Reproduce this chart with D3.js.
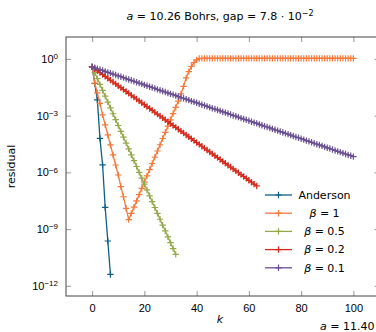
<!DOCTYPE html>
<html>
<head>
<meta charset="utf-8">
<script src="https://cdn.jsdelivr.net/npm/d3@7"></script>
<style>
  body { margin: 0; background: #fff; }
  svg { display: block; font-family: "DejaVu Sans", sans-serif; }
</style>
</head>
<body>
<svg id="chart" width="376" height="332"></svg>
<script>
// log10(residual), index = k
const andersonLog = [-0.42, -1.30, -2.17, -4.20, -5.60, -7.85, -9.63, -11.40];

const beta1Log = [
  -0.42, -1.28, -1.80, -2.35, -2.96, -3.49, -4.02, -4.55, -5.08, -5.61,
  -6.14, -6.75, -7.29, -7.90, -8.50, -8.17, -7.84, -7.51, -7.18, -6.85,
  -6.52, -6.19, -5.86, -5.53, -5.20, -4.87, -4.54, -4.21, -3.88, -3.55,
  -3.22, -2.89, -2.56, -2.23, -1.85, -1.45, -1.00, -0.67, -0.40, -0.20,
  -0.05, 0.02, 0.03, 0.03, 0.03, 0.03, 0.03, 0.03, 0.03, 0.03,
  0.03, 0.03, 0.03, 0.03, 0.03, 0.03, 0.03, 0.03, 0.03, 0.03,
  0.03, 0.03, 0.03, 0.03, 0.03, 0.03, 0.03, 0.03, 0.03, 0.03,
  0.03, 0.03, 0.03, 0.03, 0.03, 0.03, 0.03, 0.03, 0.03, 0.03,
  0.03, 0.03, 0.03, 0.03, 0.03, 0.03, 0.03, 0.03, 0.03, 0.03,
  0.03, 0.03, 0.03, 0.03, 0.03, 0.03, 0.03, 0.03, 0.03, 0.03,
  0.03
];

const beta05Log = [
  -0.42, -0.73, -1.04, -1.35, -1.66, -1.97, -2.28, -2.59, -2.90, -3.21,
  -3.52, -3.83, -4.14, -4.45, -4.76, -5.07, -5.38, -5.69, -6.00, -6.31,
  -6.62, -6.93, -7.24, -7.55, -7.86, -8.17, -8.48, -8.79, -9.10, -9.41,
  -9.72, -10.03, -10.34
];

const beta02Log = [
  -0.42, -0.52, -0.62, -0.72, -0.82, -0.92, -1.02, -1.12, -1.22, -1.32,
  -1.42, -1.52, -1.62, -1.72, -1.82, -1.92, -2.02, -2.12, -2.22, -2.32,
  -2.42, -2.52, -2.62, -2.72, -2.82, -2.92, -3.02, -3.12, -3.22, -3.32,
  -3.42, -3.52, -3.62, -3.72, -3.82, -3.92, -4.02, -4.12, -4.22, -4.32,
  -4.42, -4.52, -4.62, -4.72, -4.82, -4.92, -5.02, -5.12, -5.22, -5.32,
  -5.42, -5.52, -5.62, -5.72, -5.82, -5.92, -6.02, -6.12, -6.22, -6.32,
  -6.42, -6.52, -6.62, -6.72
];

const beta01Log = [
  -0.42, -0.47, -0.52, -0.56, -0.61, -0.66, -0.71, -0.75, -0.80, -0.85,
  -0.90, -0.94, -0.99, -1.04, -1.09, -1.13, -1.18, -1.23, -1.28, -1.32,
  -1.37, -1.42, -1.47, -1.51, -1.56, -1.61, -1.66, -1.70, -1.75, -1.80,
  -1.85, -1.89, -1.94, -1.99, -2.04, -2.08, -2.13, -2.18, -2.23, -2.27,
  -2.32, -2.37, -2.42, -2.46, -2.51, -2.56, -2.61, -2.65, -2.70, -2.75,
  -2.80, -2.84, -2.89, -2.94, -2.99, -3.03, -3.08, -3.13, -3.18, -3.22,
  -3.27, -3.32, -3.37, -3.41, -3.46, -3.51, -3.56, -3.60, -3.65, -3.70,
  -3.75, -3.79, -3.84, -3.89, -3.94, -3.98, -4.03, -4.08, -4.13, -4.17,
  -4.22, -4.27, -4.32, -4.36, -4.41, -4.46, -4.51, -4.55, -4.60, -4.65,
  -4.70, -4.74, -4.79, -4.84, -4.89, -4.93, -4.98, -5.03, -5.08, -5.12,
  -5.17
];

const seriesNames = ['Anderson', '\u03b2 = 1', '\u03b2 = 0.5', '\u03b2 = 0.2', '\u03b2 = 0.1'];
const seriesColors = ['#0d5f81', '#f5793a', '#94a84a', '#d42a1c', '#6b5092'];
const seriesLogs = [andersonLog, beta1Log, beta05Log, beta02Log, beta01Log];

const xTicks = [0, 20, 40, 60, 80, 100];
const yTickExps = [0, -3, -6, -9, -12];

const series = seriesNames.map((name, i) => ({
  name,
  color: seriesColors[i],
  points: seriesLogs[i].map((v, k) => ({ k, r: Math.pow(10, v) })),
}));

const svg = d3.select('#chart');
const margin = { top: 37, left: 66, right: -3.5, bottom: 36 };
const width = 376, height = 332;

const x = d3.scaleLinear().domain([-10, 110]).range([margin.left, width - margin.right]);
const y = d3.scaleLog().domain([Math.pow(10, -12.54), Math.pow(10, 1.16)]).range([height - margin.bottom, margin.top]);

const axisColor = '#444';
const tickColor = '#999';
const markPath = 'M-3.2,0H3.2M0,-3.2V3.2';

svg.append('clipPath').attr('id', 'plotClip')
  .append('rect')
  .attr('x', x.range()[0]).attr('y', y.range()[1])
  .attr('width', x.range()[1] - x.range()[0])
  .attr('height', y.range()[0] - y.range()[1]);

const styleAxis = (g) => {
  g.select('.domain').remove();
  g.selectAll('.tick line').attr('stroke', tickColor).attr('stroke-width', 1);
  g.selectAll('.tick text').attr('fill', '#000').attr('font-size', 11);
};

svg.append('g')
  .attr('transform', `translate(0,${y.range()[0]})`)
  .call(d3.axisBottom(x).tickValues(xTicks).tickSizeInner(-5).tickSizeOuter(0).tickPadding(8))
  .call(styleAxis);

svg.append('g')
  .attr('transform', `translate(0,${y.range()[1]})`)
  .call(d3.axisTop(x).tickValues(xTicks).tickSizeInner(-5).tickSizeOuter(0).tickFormat(() => ''))
  .call(styleAxis);

const yLeft = svg.append('g')
  .attr('transform', `translate(${x.range()[0]},0)`)
  .call(d3.axisLeft(y).tickValues(yTickExps.map((e) => Math.pow(10, e))).tickSizeInner(-5).tickSizeOuter(0).tickFormat(() => ''))
  .call(styleAxis);

yLeft.selectAll('.tick').append('text')
  .attr('x', -8)
  .attr('dy', '0.32em')
  .attr('text-anchor', 'end')
  .attr('font-size', 11)
  .attr('fill', '#000')
  .each(function (d) {
    const t = d3.select(this);
    t.append('tspan').text('10');
    const e = Math.round(Math.log10(d));
    t.append('tspan').attr('dy', '-0.45em').attr('font-size', 8)
      .text(e < 0 ? '\u2212' + (-e) : String(e));
  });

svg.append('g')
  .attr('transform', `translate(${x.range()[1]},0)`)
  .call(d3.axisRight(y).tickValues(yTickExps.map((e) => Math.pow(10, e))).tickSizeInner(-5).tickSizeOuter(0).tickFormat(() => ''))
  .call(styleAxis);

svg.append('rect')
  .attr('x', x.range()[0]).attr('y', y.range()[1])
  .attr('width', x.range()[1] - x.range()[0])
  .attr('height', y.range()[0] - y.range()[1])
  .attr('fill', 'none')
  .attr('stroke', axisColor)
  .attr('stroke-width', 1);

// series
const line = d3.line().x((d) => x(d.k)).y((d) => y(d.r));
const plot = svg.append('g').attr('clip-path', 'url(#plotClip)');

series.forEach((s) => {
  const g = plot.append('g');
  g.append('path')
    .datum(s.points)
    .attr('fill', 'none')
    .attr('stroke', s.color)
    .attr('stroke-width', 1.3)
    .attr('d', line);
  g.selectAll('path.mark')
    .data(s.points)
    .join('path')
    .attr('class', 'mark')
    .attr('transform', (d) => `translate(${x(d.k)},${y(d.r)})`)
    .attr('d', markPath)
    .attr('stroke', s.color)
    .attr('stroke-width', 1.2);
});

// legend
const legend = svg.append('g');
const legendY0 = 195, legendStep = 18.2;
series.forEach((s, i) => {
  const ly = legendY0 + i * legendStep;
  legend.append('line')
    .attr('x1', 265).attr('x2', 292).attr('y1', ly).attr('y2', ly)
    .attr('stroke', s.color).attr('stroke-width', 1.3);
  legend.append('path')
    .attr('transform', `translate(278.5,${ly})`)
    .attr('d', markPath)
    .attr('stroke', s.color).attr('stroke-width', 1.2);
  const t = legend.append('text')
    .attr('x', 324.5).attr('y', ly).attr('dy', '0.35em')
    .attr('text-anchor', 'middle')
    .attr('font-size', 11);
  if (i === 0) {
    t.text(s.name);
  } else {
    const parts = s.name.split(' = ');
    t.append('tspan').attr('font-style', 'italic').text(parts[0]);
    t.append('tspan').text(' = ' + parts[1]);
  }
});

// title
const title = svg.append('text')
  .attr('x', 220).attr('y', 20)
  .attr('text-anchor', 'middle')
  .attr('font-size', 11);
title.append('tspan').attr('font-style', 'italic').text('a');
title.append('tspan').text(' = 10.26 Bohrs, gap = 7.8 \u00b7 10');
title.append('tspan').attr('dy', '-0.45em').attr('font-size', 8).text('\u22122');

// axis labels
svg.append('text')
  .attr('x', 220).attr('y', 323)
  .attr('text-anchor', 'middle')
  .attr('font-size', 11)
  .attr('font-style', 'italic')
  .text('k');

svg.append('text')
  .attr('transform', `translate(15,${(y.range()[0] + y.range()[1]) / 2}) rotate(-90)`)
  .attr('text-anchor', 'middle')
  .attr('font-size', 11)
  .text('residual');

// title of the next panel, cut by the right edge as in the reference
const next = svg.append('text')
  .attr('x', 320).attr('y', 330)
  .attr('font-size', 11);
next.append('tspan').attr('font-style', 'italic').text('a');
next.append('tspan').text(' = 11.40 Bohrs');
</script>
</body>
</html>
